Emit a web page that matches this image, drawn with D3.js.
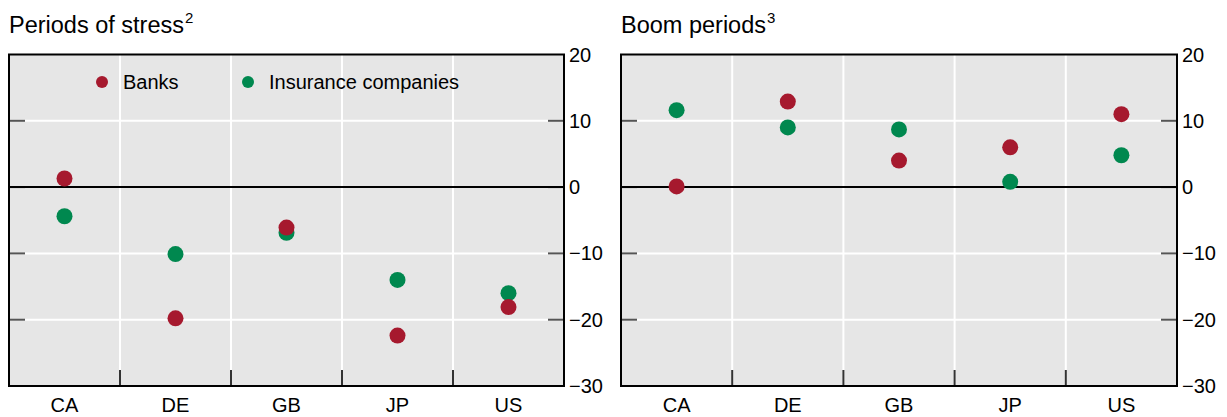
<!DOCTYPE html>
<html><head><meta charset="utf-8">
<script src="https://cdn.jsdelivr.net/npm/d3@7"></script>
<style>
html,body{margin:0;padding:0;background:#fff;}
svg{display:block;font-family:"Liberation Sans",Arial,Helvetica,sans-serif;}
</style></head>
<body><svg id="chart" width="1227" height="417"></svg>
<script>
const categories = ["CA","DE","GB","JP","US"];
const stressBanks = [1.3,-19.8,-6.1,-22.4,-18.1];
const stressInsurance = [-4.4,-10.1,-6.9,-14.0,-16.0];
const boomBanks = [0.1,12.9,4.0,6.0,11.0];
const boomInsurance = [11.6,9.0,8.7,0.8,4.8];
const yTicks = [20,10,0,-10,-20,-30];
const seriesNames = ["Banks","Insurance companies"];
const colors = {banks:"#a6192e", ins:"#00884f"};

const svg = d3.select("#chart");
const yTop = 54.5, yBot = 386;
const y = d3.scaleLinear().domain([-30,20]).range([yBot,yTop]);

const panels = [
  {title:"Periods of stress", sup:"2", x0:9, x1:564, banks:stressBanks, ins:stressInsurance, legend:true},
  {title:"Boom periods", sup:"3", x0:621, x1:1177, banks:boomBanks, ins:boomInsurance, legend:false}
];

panels.forEach(p => {
  const g = svg.append("g");
  const x = d3.scaleBand().domain(categories).range([p.x0,p.x1]).padding(0);
  g.append("rect").attr("x",p.x0).attr("y",yTop).attr("width",p.x1-p.x0).attr("height",yBot-yTop).attr("fill","#e6e6e6");
  g.selectAll(".hg").data(yTicks.filter(t=>t!==0 && t!==20 && t!==-30)).join("line")
    .attr("x1",p.x0).attr("x2",p.x1).attr("y1",d=>y(d)).attr("y2",d=>y(d))
    .attr("stroke","#fff").attr("stroke-width",2);
  const bounds = categories.slice(1).map(c=>x(c));
  g.selectAll(".vg").data(bounds).join("line")
    .attr("x1",d=>d).attr("x2",d=>d).attr("y1",yTop).attr("y2",yBot)
    .attr("stroke","#fff").attr("stroke-width",2);
  const inner = yTicks.filter(t=>t!==20 && t!==-30);
  g.selectAll(".tl").data(inner).join("line")
    .attr("x1",p.x0).attr("x2",p.x0+16).attr("y1",d=>y(d)).attr("y2",d=>y(d))
    .attr("stroke","#555").attr("stroke-width",2);
  g.selectAll(".tr").data(inner).join("line")
    .attr("x1",p.x1-16).attr("x2",p.x1).attr("y1",d=>y(d)).attr("y2",d=>y(d))
    .attr("stroke","#555").attr("stroke-width",2);
  g.selectAll(".xt").data(bounds).join("line")
    .attr("x1",d=>d).attr("x2",d=>d).attr("y1",yBot-16).attr("y2",yBot)
    .attr("stroke","#333").attr("stroke-width",2);
  g.append("line").attr("x1",p.x0).attr("x2",p.x1).attr("y1",y(0)).attr("y2",y(0))
    .attr("stroke","#000").attr("stroke-width",2);
  g.append("rect").attr("x",p.x0).attr("y",yTop).attr("width",p.x1-p.x0).attr("height",yBot-yTop)
    .attr("fill","none").attr("stroke","#000").attr("stroke-width",2);
  g.selectAll(".yl").data(yTicks).join("text")
    .attr("x",p.x1+5).attr("y",d=>y(d)).attr("dy","0.35em")
    .attr("font-size",20).attr("fill","#000")
    .text(d=>d<0 ? "\u2212"+Math.abs(d) : d);
  g.selectAll(".xl").data(categories).join("text")
    .attr("x",d=>x(d)+x.bandwidth()/2).attr("y",412).attr("text-anchor","middle")
    .attr("font-size",20).attr("fill","#000").text(d=>d);
  const t = g.append("text").attr("x",p.x0).attr("y",33).attr("font-size",23.5).attr("fill","#000");
  t.append("tspan").text(p.title);
  t.append("tspan").attr("font-size",15).attr("dx",1).attr("dy",-10).text(p.sup);
  g.selectAll(".di").data(p.ins).join("circle")
    .attr("cx",(d,i)=>x(categories[i])+x.bandwidth()/2).attr("cy",d=>y(d)).attr("r",8).attr("fill",colors.ins);
  g.selectAll(".db").data(p.banks).join("circle")
    .attr("cx",(d,i)=>x(categories[i])+x.bandwidth()/2).attr("cy",d=>y(d)).attr("r",8).attr("fill",colors.banks);
  if (p.legend) {
    const items = [{n:seriesNames[0],c:colors.banks,x:102},{n:seriesNames[1],c:colors.ins,x:248}];
    items.forEach(it=>{
      g.append("circle").attr("cx",it.x).attr("cy",82).attr("r",6).attr("fill",it.c);
      g.append("text").attr("x",it.x+21).attr("y",82).attr("dy","0.35em").attr("font-size",20).attr("fill","#000").text(it.n);
    });
  }
});
</script></body></html>
